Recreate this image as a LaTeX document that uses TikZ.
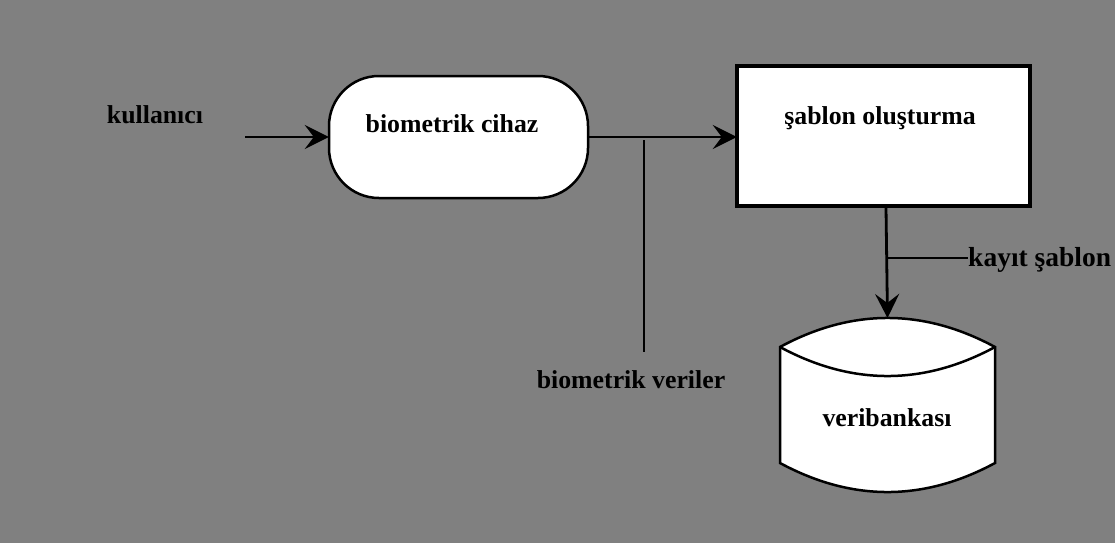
\documentclass[tikz,border=0pt]{standalone}
\usepackage{fontspec}
\setmainfont{Liberation Serif}
\usetikzlibrary{arrows.meta}
\definecolor{bg}{RGB}{128,128,128}
\tikzset{
  lbl/.style={font=\fontsize{25.8}{30}\selectfont\bfseries, inner sep=0pt},
  flow/.style={line width=2.8pt, -{Stealth[length=24pt,width=24pt,inset=9pt]}},
  thinline/.style={line width=1.2pt},
}
\begin{document}
\begin{tikzpicture}[x=1pt,y=-1pt]
\useasboundingbox (0,0) rectangle (1115,543);
\clip (0,0) rectangle (1115,543);
\fill[bg] (0,0) rectangle (1115,543);
% nodes
\node[lbl] (user) at (155,115) {kullanıcı};
\coordinate (userstart) at (245,137);
\draw[fill=white, line width=2.5pt, rounded corners=50pt] (329,76) rectangle (588,198);
\node[inner sep=0pt, minimum width=259pt, minimum height=122pt] (dev) at (458.5,137) {};
\node[lbl] (devtext) at (452,124) {biometrik cihaz};
\draw[fill=white, line width=4.5pt] (737,66) rectangle (1030,206);
\node[inner sep=0pt, minimum width=293pt, minimum height=140pt] (tmpl) at (883.5,136) {};
\node[lbl] (tmpltext) at (880,118) {şablon oluşturma};
% database cylinder
\draw[fill=white, line width=2.5pt]
  (780,347) .. controls (851.7,308.3) and (923.3,308.3) .. (995,347)
  -- (995,463) .. controls (923.3,501.7) and (851.7,501.7) .. (780,463) -- cycle;
\draw[line width=2.5pt]
  (780,347) .. controls (851.7,385.7) and (923.3,385.7) .. (995,347);
\coordinate (dbtop) at (887.5,318);
\node[lbl] (db) at (887,418) {veribankası};
% connectors
\draw[flow] (userstart) -- (dev.west);
\draw[flow] (dev.east) -- (tmpl.west |- dev.east);
\coordinate (tmplbot) at (886,208);
\draw[flow] (tmplbot) -- (dbtop);
% labels with leader lines
\coordinate (bvtop) at (644,140);
\coordinate (bvbot) at (644,352);
\draw[thinline] (bvtop) -- (bvbot);
\node[lbl] (bv) at (631,380) {biometrik veriler};
\coordinate (ktl) at (887,258);
\node[lbl, anchor=west, font=\fontsize{27.5}{32}\selectfont\bfseries] (kt) at (968,260) {kayıt şablon};
\draw[thinline] (ktl) -- (kt.west |- ktl);
\end{tikzpicture}
\end{document}
